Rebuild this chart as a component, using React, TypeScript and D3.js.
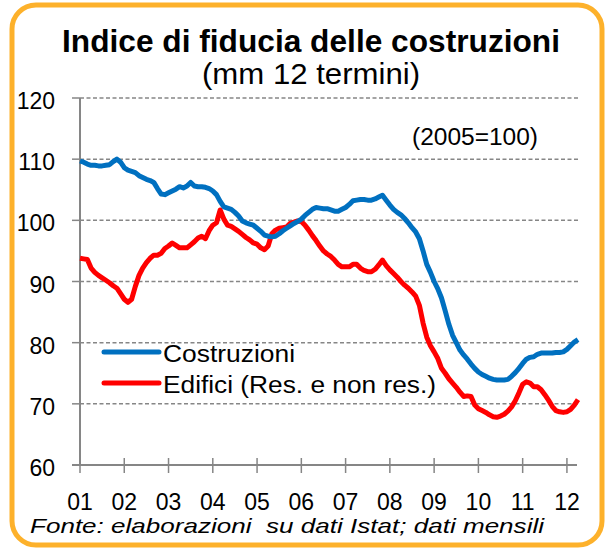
import * as d3 from "d3";

// monthly moving averages, Jan 2001 .. Apr 2012
const costruzioni = [
  109.7, 109.5, 109.2, 109.0, 109.0, 108.9, 108.9, 109.0, 109.1, 109.6, 110.0, 109.5,
  108.6, 108.2, 108.0, 107.8, 107.3, 107.0, 106.7, 106.5, 106.2, 105.2, 104.3, 104.2,
  104.5, 104.8, 105.1, 105.5, 105.3, 105.6, 106.2, 105.6, 105.5, 105.5, 105.4, 105.2,
  104.8, 104.2, 103.1, 102.2, 102.0, 101.8, 101.3, 100.7, 99.9, 99.6, 99.4, 99.2,
  98.7, 98.2, 97.6, 97.4, 97.3, 97.4, 97.8, 98.3, 98.7, 99.1, 99.5, 99.8,
  100.2, 100.8, 101.3, 101.8, 102.1, 102.0, 101.9, 101.9, 101.7, 101.5, 101.5, 101.8,
  102.1, 102.6, 103.2, 103.3, 103.4, 103.4, 103.3, 103.3, 103.5, 103.8, 104.1, 103.3,
  102.5, 101.8, 101.3, 100.9, 100.3, 99.6, 98.8, 98.1, 97.0, 95.0, 92.8, 91.5,
  90.0, 88.8, 87.3, 85.2, 83.0, 81.2, 80.0, 78.8, 78.0, 77.3, 76.5, 75.8,
  75.2, 74.8, 74.5, 74.2, 74.0, 73.9, 73.9, 73.9, 74.0, 74.5, 75.1, 75.8,
  76.6, 77.3, 77.6, 77.7, 78.1, 78.3, 78.3, 78.3, 78.3, 78.4, 78.4, 78.5,
  78.9, 79.5, 80.1, 80.5,
];

const edifici = [
  93.8, 93.7, 93.6, 92.2, 91.5, 91.0, 90.6, 90.2, 89.8, 89.3, 88.9, 88.0,
  87.1, 86.6, 87.1, 89.2, 91.0, 92.2, 93.1, 93.8, 94.3, 94.3, 94.6, 95.4,
  95.8, 96.3, 95.9, 95.5, 95.5, 95.5, 96.0, 96.5, 97.1, 97.4, 97.0, 98.3,
  99.2, 99.6, 101.7, 100.2, 99.2, 99.0, 98.6, 98.2, 97.7, 97.2, 96.8, 96.3,
  96.1, 95.5, 95.2, 95.8, 97.8, 98.4, 98.7, 98.8, 98.9, 99.5, 99.7, 99.9,
  99.8, 99.2, 98.4, 97.5, 96.7, 95.8, 95.0, 94.5, 94.1, 93.5, 92.8, 92.4,
  92.4, 92.4, 92.8, 92.8, 92.2, 91.8, 91.6, 91.6, 92.0, 92.7, 93.5, 92.6,
  91.9, 91.3, 90.7, 90.0, 89.4, 88.9, 88.3, 87.6, 86.1, 83.2, 80.9, 79.5,
  78.5, 77.4, 75.8, 75.0, 74.1, 73.4, 72.7, 71.9, 71.2, 71.3, 71.2, 69.8,
  69.2, 68.9, 68.6, 68.2, 67.9, 67.8, 68.0, 68.3, 68.8, 69.5, 70.5, 71.8,
  73.2, 73.6, 73.4, 72.8, 72.8, 72.3, 71.5, 70.6, 69.6, 68.9, 68.7, 68.6,
  68.7, 69.1, 69.8, 70.7,
];

const yearLabels = ["01", "02", "03", "04", "05", "06", "07", "08", "09", "10", "11", "12"];
const yTicks = [60, 70, 80, 90, 100, 110, 120];

const seriesNames = ["Costruzioni", "Edifici (Res. e non res.)"];
const colors = ["#0070C0", "#FF0000"];

const font = "'Liberation Sans', Arial, sans-serif";

export default function App() {
  const x = d3.scaleLinear().domain([0, 135]).range([80, 578]);
  const y = d3.scaleLinear().domain([60, 120]).range([465, 98]);

  const line = d3
    .line<number>()
    .x((d, i) => x(i))
    .y((d) => y(d));

  const grey = "#868686";

  return (
    <svg
      width={605}
      height={550}
      style={{ position: "absolute", left: 0, top: 0, background: "#fff" }}
      fontFamily={font}
    >
      <rect x={12} y={5} width={590} height={540} rx={24} fill="#fff" stroke="#FDB12B" strokeWidth={5} />

      <text x={311} y={52} textAnchor="middle" fontSize={32} fontWeight="bold" textLength={498} lengthAdjust="spacingAndGlyphs">
        Indice di fiducia delle costruzioni
      </text>
      <text x={311} y={84} textAnchor="middle" fontSize={29} textLength={218} lengthAdjust="spacingAndGlyphs">
        (mm 12 termini)
      </text>

      {/* gridlines */}
      {yTicks.slice(1).map((t) => (
        <line key={t} x1={80} x2={578} y1={y(t)} y2={y(t)} stroke={grey} strokeWidth={1.5} strokeDasharray="4,2.5" />
      ))}
      {yTicks.map((t) => (
        <g key={"yt" + t}>
          <line x1={72} x2={80} y1={y(t)} y2={y(t)} stroke={grey} strokeWidth={1.5} />
          <text x={55} y={y(t) + 11} textAnchor="end" fontSize={23}>
            {t}
          </text>
        </g>
      ))}
      <line x1={80} x2={80} y1={y(120)} y2={y(60)} stroke={grey} strokeWidth={2} />
      <line x1={72} x2={577} y1={y(60)} y2={y(60)} stroke={grey} strokeWidth={2} />
      {yearLabels.map((lab, i) => (
        <g key={lab}>
          <line x1={x(i * 12)} x2={x(i * 12)} y1={y(60) - 7} y2={y(60) + 8} stroke={grey} strokeWidth={1.5} />
          <text x={x(i * 12)} y={510} textAnchor="middle" fontSize={23}>
            {lab}
          </text>
        </g>
      ))}

      <text x={412} y={145} fontSize={23} textLength={126} lengthAdjust="spacingAndGlyphs">
        (2005=100)
      </text>

      <path d={line(edifici) || ""} fill="none" stroke={colors[1]} strokeWidth={5} strokeLinejoin="round" />
      <path d={line(costruzioni) || ""} fill="none" stroke={colors[0]} strokeWidth={5} strokeLinejoin="round" />

      {/* legend */}
      {seriesNames.map((name, i) => (
        <g key={name} transform={`translate(0,${352 + i * 31})`}>
          <line x1={104} x2={159} y1={0} y2={0} stroke={colors[i]} strokeWidth={5} strokeLinecap="round" />
          <text x={163} y={10} fontSize={23} textLength={i === 0 ? 132 : 273} lengthAdjust="spacingAndGlyphs">
            {name}
          </text>
        </g>
      ))}

      <text x={30} y={533} fontSize={21} fontStyle="italic" textLength={514} lengthAdjust="spacingAndGlyphs" style={{ whiteSpace: "pre" }}>
        Fonte: elaborazioni  su dati Istat; dati mensili
      </text>
    </svg>
  );
}
